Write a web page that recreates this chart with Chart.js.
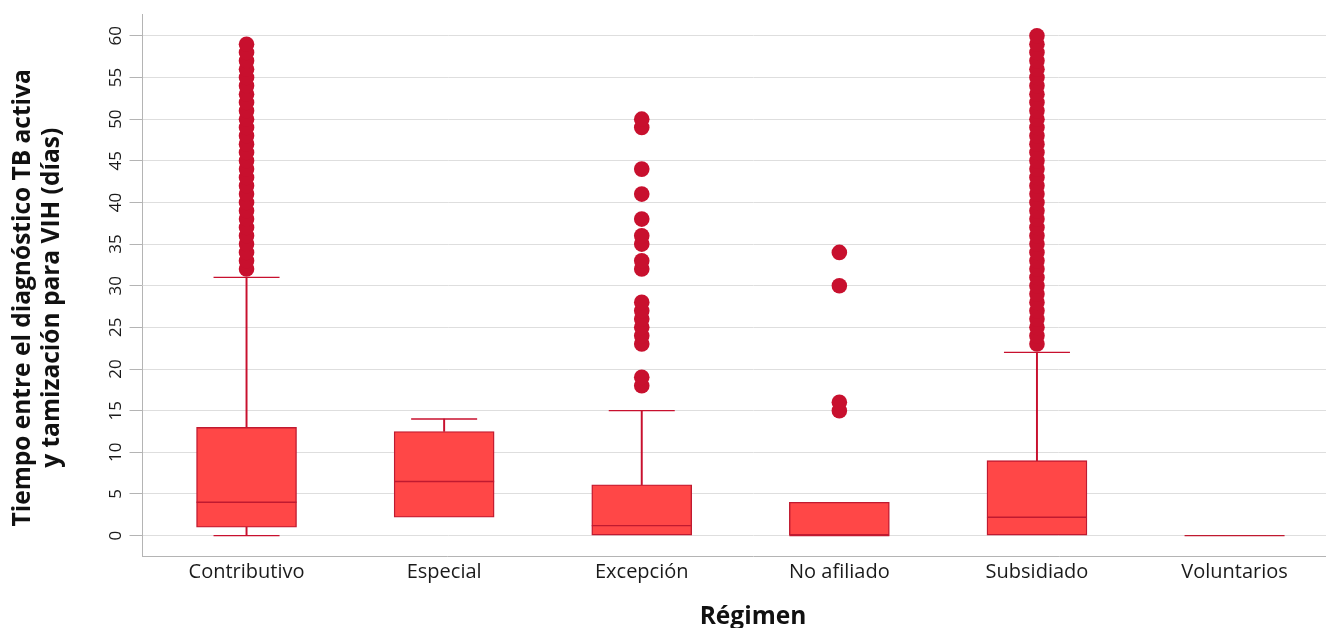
<!DOCTYPE html>
<html lang="es">
<head>
<meta charset="utf-8">
<title>Tiempo entre el diagnóstico TB activa y tamización para VIH por régimen</title>
<script src="https://cdn.jsdelivr.net/npm/chart.js@4.4.1/dist/chart.umd.min.js"></script>
<style>
  html, body { margin: 0; padding: 0; background: #ffffff; overflow: hidden; }
  #wrap { position: relative; width: 1326px; height: 628px; overflow: hidden; }
  #chart { display: block; }
</style>
</head>
<body>
<div id="wrap"><canvas id="chart" width="1364" height="628"></canvas></div>
<script>
// Régimen de afiliación (categorías del eje X)
const categories = ['Contributivo', 'Especial', 'Excepción', 'No afiliado', 'Subsidiado', 'Voluntarios'];

// Resumen de cinco números por régimen (días)
const whiskerLow  = [0,  2.2,  0,   0, 0,   0];
const quartile1   = [1,  2.2,  0,   0, 0,   0];
const medianDays  = [4,  6.5,  1.2, 0, 2.2, 0];
const quartile3   = [13, 12.5, 6.1, 4, 9,   0];
const whiskerHigh = [31, 14,   15,  4, 22,  0];

// Valores atípicos por régimen (días)
const outliersContributivo = [32, 33, 34, 35, 36, 37, 38, 39, 40, 41, 42, 43, 44, 45, 46, 47, 48, 49, 50, 51, 52, 53, 54, 55, 56, 57, 58, 59];
const outliersEspecial = [];
const outliersExcepcion = [18, 19, 23, 24, 25, 26, 27, 28, 32, 33, 35, 36, 38, 41, 44, 49, 50];
const outliersNoAfiliado = [15, 16, 30, 34];
const outliersSubsidiado = [23, 24, 25, 26, 27, 28, 29, 30, 31, 32, 33, 34, 35, 36, 37, 38, 39, 40, 41, 42, 43, 44, 45, 46, 47, 48, 49, 50, 51, 52, 53, 54, 55, 56, 57, 58, 59, 60];
const outliersVoluntarios = [];
const outlierGroups = [outliersContributivo, outliersEspecial, outliersExcepcion, outliersNoAfiliado, outliersSubsidiado, outliersVoluntarios];

// Marcas del eje Y
const yTicks = [0, 5, 10, 15, 20, 25, 30, 35, 40, 45, 50, 55, 60];

const BOX_FILL = '#ff4747';
const CRIMSON = '#c8102e';
const BOX_LINE = '#c01a30';

// Cajas: rango intercuartílico
const boxData = categories.map((_, i) => ({ x: i, y: [quartile1[i], quartile3[i]] }));

// Bigotes y sus topes
const upperWhiskers = [];
const lowerWhiskers = [];
const upperCaps = [];
const lowerCaps = [];
categories.forEach((_, i) => {
  if (whiskerHigh[i] > quartile3[i]) {
    upperWhiskers.push({ x: i, y: [quartile3[i], whiskerHigh[i]] });
    upperCaps.push({ x: i, y: whiskerHigh[i] });
  }
  if (whiskerLow[i] < quartile1[i]) {
    lowerWhiskers.push({ x: i, y: [whiskerLow[i], quartile1[i]] });
    lowerCaps.push({ x: i, y: whiskerLow[i] });
  }
});

const medianData = categories.map((_, i) => ({ x: i, y: medianDays[i] }));

const outlierData = [];
outlierGroups.forEach((group, i) => {
  group.forEach(v => outlierData.push({ x: i, y: v }));
});

Chart.defaults.font.family = "'Open Sans', sans-serif";
Chart.defaults.color = '#1a1a1a';

new Chart(document.getElementById('chart'), {
  type: 'bar',
  data: {
    datasets: [
      {
        type: 'scatter',
        label: 'Atípicos',
        data: outlierData,
        pointRadius: 7.8,
        pointBackgroundColor: CRIMSON,
        pointBorderWidth: 0,
        pointHoverRadius: 7.8,
        order: 0
      },
      {
        type: 'scatter',
        label: 'Mediana',
        data: medianData,
        pointStyle: 'line',
        pointRadius: 50,
        pointBorderColor: BOX_LINE,
        pointBorderWidth: 1.4,
        order: 1
      },
      {
        type: 'scatter',
        label: 'Tope superior',
        data: upperCaps,
        pointStyle: 'line',
        pointRadius: 33,
        pointBorderColor: CRIMSON,
        pointBorderWidth: 1.3,
        order: 2
      },
      {
        type: 'scatter',
        label: 'Tope inferior',
        data: lowerCaps,
        pointStyle: 'line',
        pointRadius: 33,
        pointBorderColor: CRIMSON,
        pointBorderWidth: 1.3,
        order: 2
      },
      {
        type: 'bar',
        label: 'Caja',
        data: boxData,
        backgroundColor: BOX_FILL,
        borderColor: BOX_LINE,
        borderWidth: 1.4,
        borderSkipped: false,
        barThickness: 100,
        grouped: false,
        order: 3
      },
      {
        type: 'bar',
        label: 'Bigote superior',
        data: upperWhiskers,
        backgroundColor: CRIMSON,
        borderWidth: 0,
        barThickness: 1.3,
        grouped: false,
        order: 4
      },
      {
        type: 'bar',
        label: 'Bigote inferior',
        data: lowerWhiskers,
        backgroundColor: CRIMSON,
        borderWidth: 0,
        barThickness: 1.3,
        grouped: false,
        order: 4
      }
    ]
  },
  options: {
    responsive: false,
    animation: false,
    events: [],
    layout: { autoPadding: false, padding: { top: 12, right: 0, left: 0, bottom: 0 } },
    plugins: {
      legend: { display: false },
      tooltip: { enabled: false }
    },
    scales: {
      x: {
        type: 'linear',
        offset: false,
        min: -0.529,
        max: 5.655,
        afterBuildTicks: scale => { scale.ticks = categories.map((_, i) => ({ value: i })); },
        afterFit: scale => { scale.height = 72; },
        grid: { display: false, drawTicks: false, offset: false },
        border: { display: true, color: '#b4b4b4', width: 1 },
        ticks: {
          autoSkip: false,
          maxRotation: 0,
          padding: 4,
          color: '#1a1a1a',
          font: { size: 20 },
          callback: value => categories[value] ?? ''
        },
        title: {
          display: true,
          text: 'Régimen',
          color: '#111111',
          font: { size: 24.5, weight: 'bold', lineHeight: 0.9 },
          padding: { top: 0, bottom: 0 }
        }
      },
      y: {
        type: 'linear',
        min: -2.45,
        max: 62.6,
        afterBuildTicks: scale => { scale.ticks = yTicks.map(v => ({ value: v })); },
        afterFit: scale => { scale.width = 142; },
        grid: { color: '#dedede', lineWidth: 1, tickLength: 12.5, tickColor: '#b4b4b4' },
        border: { display: true, color: '#b4b4b4', width: 1 },
        ticks: {
          minRotation: 90,
          maxRotation: 90,
          crossAlign: 'center',
          padding: 4,
          color: '#1a1a1a',
          font: { size: 17 }
        },
        title: {
          display: true,
          // trailing spaces nudge the rotated title slightly below the axis midpoint
          text: ['Tiempo entre el diagnóstico TB activa    ', 'y tamización para VIH (días)    '],
          color: '#111111',
          font: { size: 24.5, weight: 'bold', lineHeight: 1.18 },
          padding: { top: 9, bottom: 0 }
        }
      }
    }
  }
});
</script>
</body>
</html>
